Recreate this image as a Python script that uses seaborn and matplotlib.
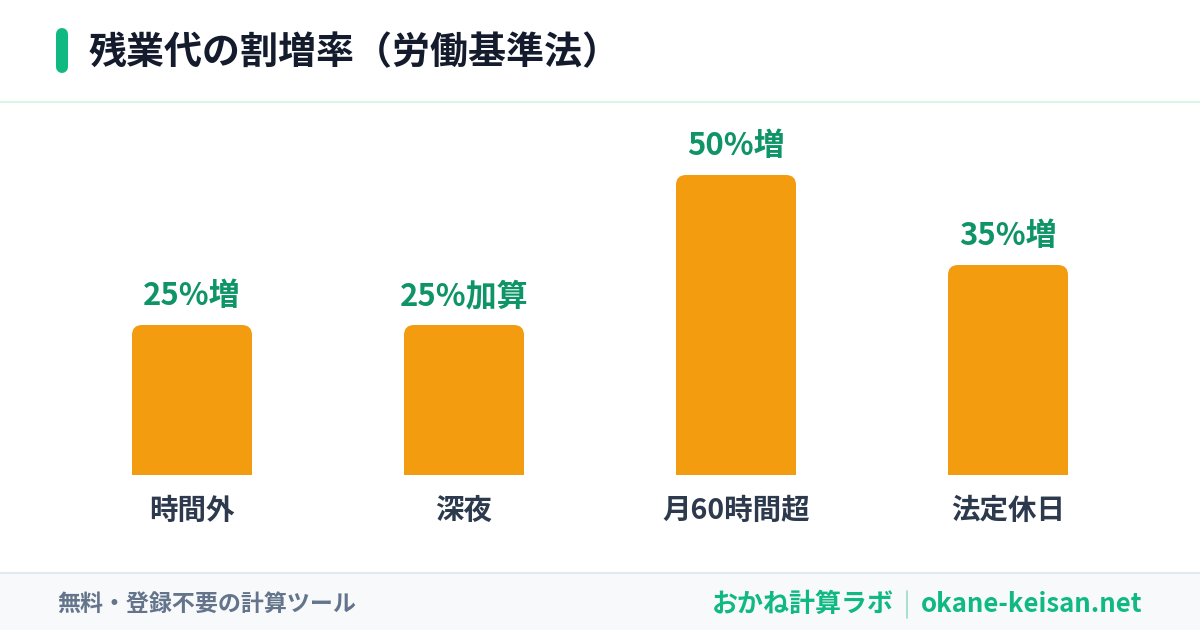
import matplotlib
matplotlib.use("Agg")
import matplotlib.pyplot as plt
import seaborn as sns
import pandas as pd
from matplotlib.patches import FancyBboxPatch, Rectangle
from matplotlib.lines import Line2D

# データ
categories = ["時間外", "深夜", "月60時間超", "法定休日"]
rates = [25, 25, 50, 35]
value_labels = ["25%増", "25%加算", "50%増", "35%増"]

title = "残業代の割増率（労働基準法）"
footer_left = "無料・登録不要の計算ツール"
footer_brand = "おかね計算ラボ"
footer_url = "okane-keisan.net"

ORANGE = "#F39C0F"
GREEN = "#10B981"
GREEN_DARK = "#0E9467"

sns.set_theme(style="white")
plt.rcParams["font.family"] = ["Noto Sans CJK JP", "DejaVu Sans"]

W, H = 1200, 630
fig = plt.figure(figsize=(12, 6.3), dpi=100)
fig.patch.set_facecolor("white")


def fx(x):
    return x / W


def fy(y):
    return 1 - y / H


def pt(px):
    return px * 72 / 100


# ヘッダー
fig.add_artist(Line2D([fx(62), fx(62)], [fy(34), fy(67)], transform=fig.transFigure,
                      color=GREEN, lw=pt(12), solid_capstyle="round"))
fig.text(fx(89), fy(53), title, fontsize=pt(38), fontweight="bold",
         color="#141B2D", va="center", ha="left")
fig.add_artist(Rectangle((0, fy(103)), 1, 2 / H, transform=fig.transFigure,
                         color="#D5F7E6", lw=0))

# フッター
fig.add_artist(Rectangle((0, 0), 1, fy(573), transform=fig.transFigure,
                         color="#F7F9FB", lw=0, zorder=0))
fig.add_artist(Rectangle((0, fy(574)), 1, 2 / H, transform=fig.transFigure,
                         color="#E2E8F0", lw=0))
fig.text(fx(57), fy(604), footer_left, fontsize=pt(23), fontweight="bold",
         color="#64748B", va="center", ha="left")
fig.text(fx(1142), fy(604), footer_url, fontsize=pt(25.7), fontweight="bold",
         color=GREEN, va="center", ha="right")
fig.text(fx(894), fy(604), footer_brand, fontsize=pt(26), fontweight="bold",
         color=GREEN, va="center", ha="right")
fig.add_artist(Line2D([fx(907), fx(907)], [fy(591), fy(618)], transform=fig.transFigure,
                      color="#9ADBC3", lw=1.2))

# 棒グラフ
ax = fig.add_axes([fx(56), fy(475), fx(1088), (475 - 115) / H])
df = pd.DataFrame({"category": categories, "rate": rates})
sns.barplot(data=df, x="category", y="rate", color=ORANGE, width=120 / 272,
            saturation=1, ax=ax)
ax.set_xlim(-0.5, 3.5)
ax.set_ylim(0, 60)
ax.set_facecolor("none")
for s in ax.spines.values():
    s.set_visible(False)
ax.set_xlabel("")
ax.set_ylabel("")
ax.set_yticks([])
ax.tick_params(axis="x", length=0, pad=pt(22))
for lbl in ax.get_xticklabels():
    lbl.set_fontsize(pt(28.5))
    lbl.set_fontweight("bold")
    lbl.set_color("#2D3A4E")

# 角丸に置き換え
x_per_px = 1 / 272
y_per_px = 1 / 6
radius = 10
for patch in list(ax.patches):
    x0, w, h = patch.get_x(), patch.get_width(), patch.get_height()
    patch.set_visible(False)
    ext = 3
    rounded = FancyBboxPatch((x0, -ext), w, h + ext,
                             boxstyle=f"round,pad=0,rounding_size={radius * x_per_px}",
                             mutation_aspect=(y_per_px / x_per_px),
                             facecolor=ORANGE, edgecolor="none")
    ax.add_patch(rounded)

for i, (v, lab) in enumerate(zip(rates, value_labels)):
    ax.annotate(lab, (i, v), xytext=(0, pt(29)), textcoords="offset points",
                ha="center", va="center", fontsize=pt(31), fontweight="bold",
                color=GREEN_DARK)

fig.savefig("out.png", dpi=100)
